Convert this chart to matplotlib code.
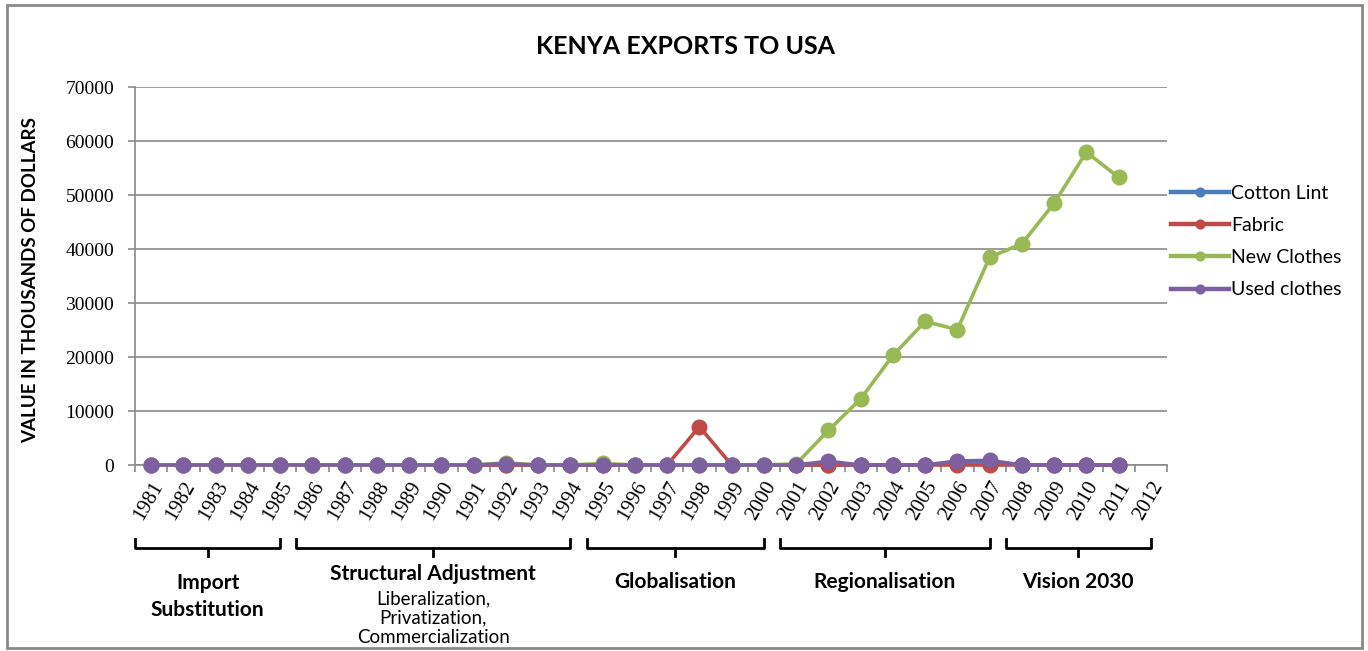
import matplotlib
matplotlib.use('Agg')
import matplotlib.pyplot as plt
import matplotlib.transforms as mtransforms
import numpy as np

# years on the category axis (2012 has no data yet)
years = [str(y) for y in range(1981, 2013)]

# values in thousands of dollars, 1981-2011
cotton_lint = [0, 0, 0, 0, 0, 0, 0, 0, 0, 0, 0, 0, 0, 0, 0, 0, 0, 0, 0, 0,
               0, 0, 0, 0, 0, 500, 600, 0, 0, 0, 0]
fabric = [0, 0, 0, 0, 0, 0, 0, 0, 0, 0, 0, 0, 0, 0, 0, 0, 0, 7100, 0, 0,
          0, 0, 0, 0, 0, 0, 0, 0, 0, 0, 0]
new_clothes = [0, 0, 0, 0, 0, 0, 0, 0, 0, 0, 0, 400, 0, 0, 300, 0, 0, 0, 0, 0,
               200, 6400, 12250, 20300, 26600, 25100, 38500, 41000, 48500, 58000, 53300]
used_clothes = [0, 0, 0, 0, 0, 0, 0, 0, 0, 0, 0, 250, 0, 0, 0, 0, 0, 0, 0, 0,
                0, 700, 0, 0, 0, 750, 850, 0, 0, 0, 0]

series_names = ['Cotton Lint', 'Fabric', 'New Clothes', 'Used clothes']
series_colors = ['#4A7EBB', '#BE4B48', '#98B954', '#7D60A0']

# policy eras: label, sub label, first year, last year
eras = [
    ('Import\nSubstitution', None, 1981, 1985),
    ('Structural Adjustment', 'Liberalization,\nPrivatization,\nCommercialization', 1986, 1994),
    ('Globalisation', None, 1995, 2000),
    ('Regionalisation', None, 2001, 2007),
    ('Vision 2030', None, 2008, 2012),
]

SANS = ['Lato', 'DejaVu Sans']
SERIF = ['Liberation Serif', 'DejaVu Serif']

fig = plt.figure(figsize=(13.68, 6.51), dpi=100)
ax = fig.add_axes([135 / 1368, 1 - 465 / 651, (1167 - 135) / 1368, (465 - 87.3) / 651])

x = np.arange(len(cotton_lint))
for vals, name, col in zip([cotton_lint, fabric, new_clothes, used_clothes],
                           series_names, series_colors):
    ax.plot(x, vals, color=col, lw=2.6, marker='o', ms=10.5,
            markeredgecolor=col, label=name, clip_on=False, zorder=3)

ax.set_xlim(-0.5, len(years) - 0.5)
ax.set_ylim(0, 70000)
ax.set_yticks(range(0, 70001, 10000))
ax.grid(axis='y', color='#8a8a8a', lw=1.2)
ax.set_axisbelow(True)
for s in ['top', 'right']:
    ax.spines[s].set_visible(False)
for s in ['left', 'bottom']:
    ax.spines[s].set_color('#8a8a8a')
    ax.spines[s].set_linewidth(1.2)

ax.tick_params(axis='y', length=5, width=1.2, color='#8a8a8a', pad=10,
               labelsize=14)
for t in ax.get_yticklabels():
    t.set_family(SERIF)

# tick marks between categories, labels at the centres
ax.set_xticks(np.arange(len(years)))
ax.set_xticklabels(years, rotation=60, ha='right', va='center',
                   rotation_mode='anchor', family=SERIF, fontsize=15)
ax.set_xticks(np.arange(len(years) + 1) - 0.5, minor=True)
ax.tick_params(axis='x', which='major', length=0, pad=13)
ax.tick_params(axis='x', which='minor', length=5, width=1.2, color='#8a8a8a')
shift = mtransforms.ScaledTranslation(0.08, 0, fig.dpi_scale_trans)
for t in ax.get_xticklabels():
    t.set_transform(t.get_transform() + shift)

fig.text(685 / 1368, 1 - 47 / 651, 'KENYA EXPORTS TO USA', ha='center',
         va='center', fontsize=18, fontweight='bold', family=SANS)
fig.text(31 / 1368, 1 - 280 / 651, 'VALUE IN THOUSANDS OF DOLLARS',
         rotation=90, ha='center', va='center', fontsize=13.5,
         fontweight='bold', family=SANS)

leg = fig.legend(loc='center left', bbox_to_anchor=(1171 / 1368, 1 - 241.7 / 651),
                 frameon=False, handlelength=3.0, handletextpad=0.1,
                 labelspacing=0.78, borderpad=0, borderaxespad=0,
                 markerscale=0.6, prop={'family': SANS, 'size': 14})
for h in leg.get_lines():
    h.set_linewidth(3.2)

# era brackets under the year labels
tr = mtransforms.blended_transform_factory(ax.transData, ax.transAxes)
yb, ye, yt = -0.22, -0.196, -0.242
for label, sub, y0, y1 in eras:
    a = y0 - 1981 - 0.5
    b = y1 - 1981 + 0.0
    mid = (a + b) / 2
    ax.plot([a, a, b, b], [ye, yb, yb, ye], color='black', lw=2,
            transform=tr, clip_on=False)
    ax.plot([mid, mid], [yb, yt], color='black', lw=2, transform=tr,
            clip_on=False)
    if sub is None:
        ty = -0.349 if '\n' in label else -0.31
    else:
        ty = -0.289
    ax.text(mid, ty, label, transform=tr, ha='center', va='center',
            fontsize=15, fontweight='bold', family=SANS, linespacing=1.45)
    if sub is not None:
        ax.text(mid, -0.333, sub, transform=tr, ha='center', va='top',
                fontsize=13.5, family=SANS, linespacing=1.15)

# outer chart frame
fig.patches.append(plt.Rectangle((7 / 1368, 3 / 651), 1355 / 1368, 643 / 651,
                                 transform=fig.transFigure, fill=False,
                                 edgecolor='#8a8a8a', lw=2))

fig.savefig('out.png', dpi=100)
